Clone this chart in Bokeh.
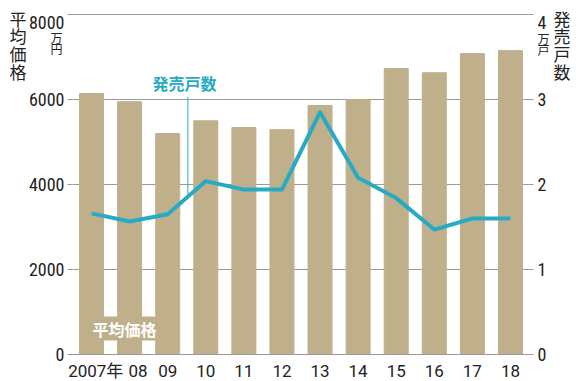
from bokeh.plotting import figure
from bokeh.models import Range1d, LinearAxis, FixedTicker, Label, ColumnDataSource
from bokeh.embed import file_html
from bokeh.resources import INLINE

years = ["2007", "08", "09", "10", "11", "12", "13", "14", "15", "16", "17", "18"]
year_labels = ["\u00a0\u00a02007年", "\u00a0\u00a0\u00a0\u00a008", "09", "10", "11", "12",
               "13", "14", "15", "16", "17", "18"]
avg_price = [6140, 5950, 5200, 5500, 5340, 5290, 5860, 6000, 6730, 6630, 7080, 7150]   # 万円
units_sold = [1.66, 1.565, 1.65, 2.04, 1.94, 1.94, 2.85, 2.08, 1.84, 1.47, 1.60, 1.60]  # 万戸
left_ticks = [0, 2000, 4000, 6000, 8000]
right_ticks = [0, 1, 2, 3, 4]

NUM_FONT = "'Liberation Sans Narrow', 'Roboto Condensed', 'DejaVu Sans Condensed', 'Arial Narrow', Roboto, sans-serif"
X_FONT = "Roboto, 'Noto Sans CJK JP', sans-serif"
CJK_FONT = "'Noto Sans CJK JP'"
BAR = "#bfb08b"
TEAL = "#27abc4"
GRID = "#9a9a9a"
TXT = "#222222"

# canvas geometry (pixels): plot area 72..529 wide, value 0 at 354, top value at 14
W, H = 576, 381
PL, PR, PTOP, P0 = 72, 529, 14, 354
n = len(years)
x_lo, x_hi = -0.5, n - 0.5
ppx = (PR - PL) / (x_hi - x_lo)
ymax_l, ymax_r = left_ticks[-1], right_ticks[-1]
ppy = (P0 - PTOP) / ymax_l
ppy_r = (P0 - PTOP) / ymax_r

def fx(px):   # canvas x -> screen offset from frame left (frame = whole canvas)
    return px
def fy(py):   # canvas y -> screen offset from frame bottom
    return H - py

xs = list(range(n))
src = ColumnDataSource(dict(x=xs, price=avg_price, units=units_sold))

p = figure(width=W, height=H, output_backend="svg", toolbar_location=None,
           x_range=Range1d(x_lo - PL / ppx, x_hi + (W - PR) / ppx),
           y_range=Range1d(-(H - P0) / ppy, ymax_l + PTOP / ppy),
           min_border_left=0, min_border_right=0, min_border_top=0, min_border_bottom=0)
p.outline_line_color = None
p.background_fill_color = "white"
p.border_fill_color = "white"
p.extra_y_ranges = {"units": Range1d(-(H - P0) / ppy_r, ymax_r + PTOP / ppy_r)}
p.xgrid.visible = False
p.ygrid.visible = False

# horizontal grid lines across the plot area only
p.segment(x0=[x_lo] * len(left_ticks), x1=[x_hi] * len(left_ticks),
          y0=left_ticks, y1=left_ticks, line_color=GRID, line_width=1)

p.vbar(x="x", top="price", width=0.63, color=BAR, source=src)
p.line(x="x", y="units", y_range_name="units", line_color=TEAL, line_width=4,
       line_join="round", source=src)

# leader line for 発売戸数 label (between 09 and 10)
lx = 2.53
ly = units_sold[2] + (units_sold[3] - units_sold[2]) * (lx - 2)
p.segment(x0=[lx], y0=[ly], x1=[lx], y1=[3.03], y_range_name="units",
          line_color=TEAL, line_width=1)

# x axis, fixed at value 0
xa = p.xaxis[0]
xa.fixed_location = 0
xa.bounds = (x_lo, x_hi)
xa.ticker = FixedTicker(ticks=xs)
xa.major_label_overrides = {i: lab for i, lab in enumerate(year_labels)}
xa.major_tick_line_color = None
xa.minor_tick_line_color = None
xa.axis_line_color = GRID
xa.major_label_text_font = X_FONT
xa.major_label_text_font_size = "17px"
xa.major_label_text_color = TXT
xa.major_label_standoff = 0

# left axis, fixed at the plot area's left edge
ya = p.yaxis[0]
ya.fixed_location = x_lo
ya.bounds = (0, ymax_l)
ya.ticker = FixedTicker(ticks=left_ticks)
ya.major_label_overrides = {ymax_l: ""}
ya.axis_line_color = None
ya.major_tick_line_color = GRID
ya.major_tick_out = 5
ya.major_tick_in = 0
ya.minor_tick_line_color = None
ya.major_label_text_font = NUM_FONT
ya.major_label_text_font_size = "18px"
ya.major_label_text_color = TXT
ya.major_label_standoff = 3

# right axis for 発売戸数, fixed at the plot area's right edge
ra = LinearAxis(y_range_name="units", ticker=FixedTicker(ticks=right_ticks))
ra.fixed_location = x_hi
ra.bounds = (0, ymax_r)
ra.major_label_overrides = {ymax_r: ""}
ra.axis_line_color = None
ra.major_tick_line_color = GRID
ra.major_tick_out = 4
ra.major_tick_in = 0
ra.minor_tick_line_color = None
ra.major_label_text_font = NUM_FONT
ra.major_label_text_font_size = "18px"
ra.major_label_text_color = TXT
ra.major_label_standoff = 4
p.add_layout(ra, "right")

def lab(text, px, py, size, color=TXT, style="normal", align="left", font=CJK_FONT,
        baseline="top", lh=1.0, bg=None):
    p.add_layout(Label(x=fx(px), y=fy(py), x_units="screen", y_units="screen", text=text,
                       text_font=font, text_font_size=size, text_color=color,
                       text_font_style=style, text_align=align, text_baseline=baseline,
                       text_line_height=lh, background_fill_color=bg))

# top tick labels sit slightly below their gridline, as in the original
lab(str(ymax_l), 64, 22, "18px", font=NUM_FONT, align="right", baseline="alphabetic")
lab(str(ymax_r), 537, 22, "18px", font=NUM_FONT, baseline="alphabetic")
# axis titles / units (vertical, one character per line)
lab("平\n均\n価\n格", 9, 5, "17px", lh=0.71)
lab("万\n円", 50, 28.5, "12px", lh=0.62)
lab("万\n戸", 537, 29.5, "12px", lh=0.62)
lab("発\n売\n戸\n数", 553, 5, "17px", lh=0.71)
# series labels
lab("発売戸数", 152, 70, "16px", color=TEAL, style="bold")
lab("平均価格", 92, 316, "16px", color="white", style="bold", bg=BAR)

open("out.html", "w").write(file_html(p, INLINE))
